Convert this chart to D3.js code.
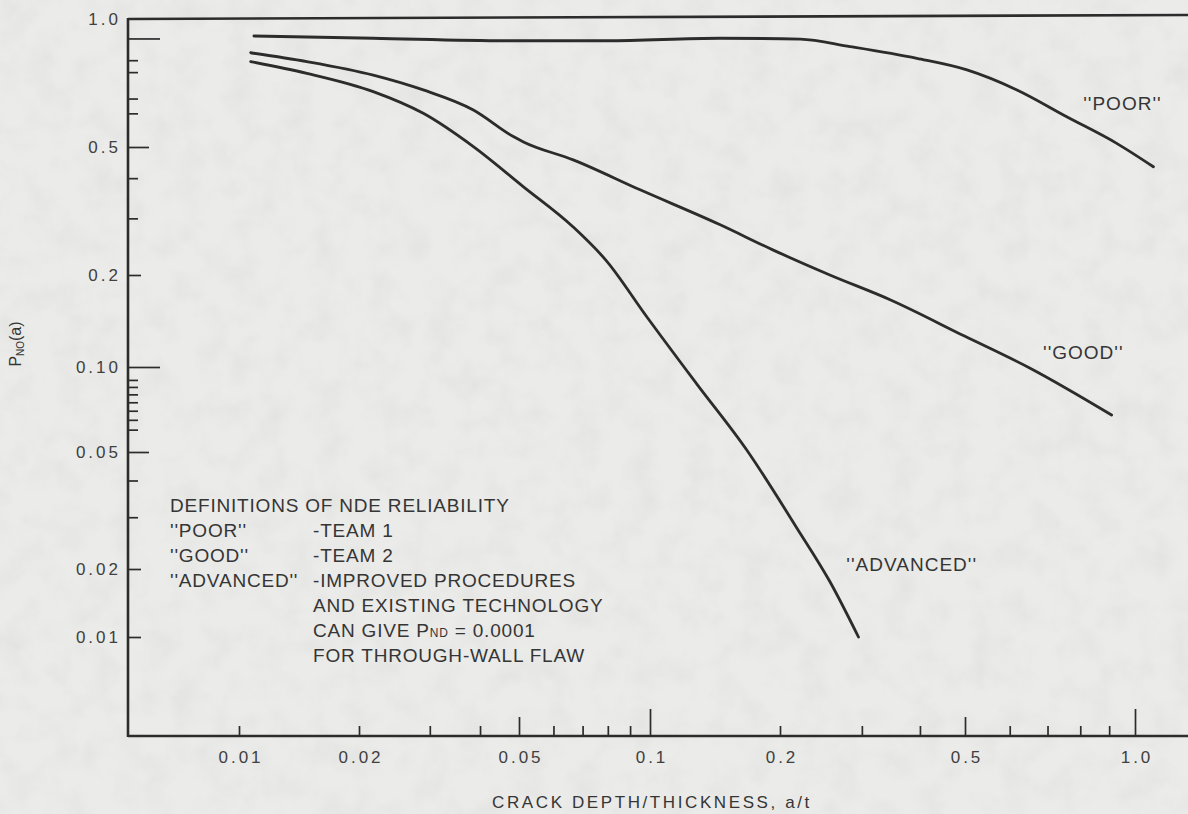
<!DOCTYPE html>
<html>
<head>
<meta charset="utf-8">
<script src="https://cdn.jsdelivr.net/npm/d3@7"></script>
<style>
body { margin: 0; background: #e8e8e6; }
svg text { font-family: "Liberation Sans", Arial, sans-serif; fill: #353535; }
</style>
</head>
<body>
<script>
// curves (a/t, P_ND)
var poorX = [0.0109, 0.0217, 0.0466, 0.0795, 0.145, 0.221, 0.283, 0.394, 0.504, 0.618, 0.757, 0.928, 1.078];
var poorY = [0.912, 0.901, 0.889, 0.889, 0.901, 0.897, 0.861, 0.808, 0.759, 0.681, 0.589, 0.510, 0.434];

var goodX = [0.0107, 0.0148, 0.0217, 0.0289, 0.0385, 0.0484, 0.0512, 0.0666, 0.0949, 0.145, 0.193, 0.256, 0.345, 0.5, 0.652, 0.909];
var goodY = [0.833, 0.794, 0.738, 0.681, 0.611, 0.529, 0.514, 0.456, 0.368, 0.287, 0.239, 0.200, 0.166, 0.126, 0.099, 0.0676];

var advX = [0.0107, 0.0148, 0.0217, 0.0289, 0.0385, 0.0512, 0.0666, 0.0795, 0.0983, 0.128, 0.1675, 0.217, 0.256, 0.295];
var advY = [0.794, 0.745, 0.675, 0.600, 0.501, 0.376, 0.282, 0.221, 0.146, 0.0875, 0.0508, 0.0277, 0.0176, 0.0100];

var curveNames = ["''POOR''", "''GOOD''", "''ADVANCED''"];
var curveLabelX = [0.95, 0.81, 0.384];
var curveLabelY = [0.635, 0.112, 0.0208];

var xTicks = [0.01, 0.02, 0.05, 0.1, 0.2, 0.5, 1.0];
var xTickLabels = ["0.01", "0.02", "0.05", "0.1", "0.2", "0.5", "1.0"];
var xMinor = [0.03, 0.04, 0.06, 0.07, 0.08, 0.09, 0.3, 0.4, 0.6, 0.7, 0.8, 0.9];
var yTicks = [1.0, 0.5, 0.2, 0.1, 0.05, 0.02, 0.01];
var yTickLabels = ["1.0", "0.5", "0.2", "0.10", "0.05", "0.02", "0.01"];
var yMinor = [0.8, 0.75, 0.65, 0.6, 0.4, 0.3, 0.09, 0.085, 0.08, 0.075, 0.07, 0.065, 0.06, 0.04, 0.03];

var legendLeft = ["DEFINITIONS OF NDE RELIABILITY", "''POOR''", "''GOOD''", "''ADVANCED''", "", "", ""];
var legendRight = ["", "-TEAM 1", "-TEAM 2", "-IMPROVED PROCEDURES", "AND EXISTING TECHNOLOGY", "CAN GIVE P|ND| = 0.0001", "FOR THROUGH-WALL FLAW"];

var W = 1188, H = 814;
var axisX = 128, axisBottom = 736;
// the scanned axes are not evenly spaced, so the log scales are piecewise
var xStops = [239, 359, 519, 650, 780, 965, 1135];
var yStops = [19, 147, 275, 367, 452, 569, 637];

var xScale = d3.scaleLog().domain(xTicks).range(xStops);
var yScale = d3.scaleLog().domain(yTicks).range(yStops);

var svg = d3.select("body").append("svg")
    .attr("width", W)
    .attr("height", H);

var defs = svg.append("defs");
var f = defs.append("filter").attr("id", "grain").attr("x", 0).attr("y", 0).attr("width", 1).attr("height", 1);
f.append("feTurbulence").attr("type", "fractalNoise").attr("baseFrequency", 0.035).attr("numOctaves", 3).attr("seed", 4);
f.append("feColorMatrix").attr("type", "matrix")
    .attr("values", "0 0 0 0 0.55  0 0 0 0 0.55  0 0 0 0 0.54  0 0 0 -1.6 0.95");

svg.append("rect").attr("width", W).attr("height", H).attr("fill", "#ebebe9");
svg.append("rect").attr("width", W).attr("height", H).attr("filter", "url(#grain)").attr("opacity", 0.22);

var ink = "#2c2c2c";

// frame: left axis, top (1.0) line, bottom axis
svg.append("line").attr("x1", axisX).attr("x2", axisX)
    .attr("y1", yScale(1.0) - 1).attr("y2", axisBottom + 1)
    .attr("stroke", ink).attr("stroke-width", 2.6);
svg.append("line").attr("x1", axisX).attr("x2", W)
    .attr("y1", yScale(1.0)).attr("y2", yScale(1.0) - 4)
    .attr("stroke", ink).attr("stroke-width", 2.6);
svg.append("line").attr("x1", axisX).attr("x2", W)
    .attr("y1", axisBottom).attr("y2", axisBottom)
    .attr("stroke", ink).attr("stroke-width", 2.6);

// x ticks point up into the plot
function xTickGroup(vals, len) {
    var g = svg.append("g")
        .attr("transform", "translate(0," + axisBottom + ")")
        .call(d3.axisBottom(xScale).tickValues(vals).tickSize(-len).tickFormat(""));
    g.select(".domain").remove();
    g.selectAll(".tick line").attr("stroke", ink).attr("stroke-width", 1.7);
}
xTickGroup([0.01, 0.02, 0.2].concat(xMinor), 10);
xTickGroup([0.05, 0.5], 19);
xTickGroup([0.1, 1.0], 27);

var xl = svg.append("g")
    .attr("transform", "translate(0," + axisBottom + ")")
    .call(d3.axisBottom(xScale).tickValues(xTicks).tickSize(0).tickPadding(15)
        .tickFormat(function(d, i) { return xTickLabels[i]; }));
xl.select(".domain").remove();
xl.selectAll("text").attr("font-size", "17px").attr("dx", "1.5px")
    .style("letter-spacing", "3px").style("fill", "#404040")
    .style("font-family", '"Liberation Sans", Arial, sans-serif');

svg.append("text")
    .attr("x", 652).attr("y", 808)
    .attr("text-anchor", "middle")
    .attr("font-size", "17px")
    .style("letter-spacing", "2.6px")
    .text("CRACK DEPTH/THICKNESS, a/t");

// y ticks point right into the plot
function yTickGroup(vals, len) {
    var g = svg.append("g")
        .attr("transform", "translate(" + axisX + ",0)")
        .call(d3.axisRight(yScale).tickValues(vals).tickSize(len).tickFormat(""));
    g.select(".domain").remove();
    g.selectAll(".tick line").attr("stroke", ink).attr("stroke-width", 1.7);
}
yTickGroup(yMinor, 10);
yTickGroup([0.2, 0.02, 0.01], 13);
yTickGroup([0.5, 0.05], 21);
yTickGroup([0.9, 0.1], 32);

var yl = svg.append("g")
    .attr("transform", "translate(" + axisX + ",0)")
    .call(d3.axisLeft(yScale).tickValues(yTicks).tickSize(0).tickPadding(7)
        .tickFormat(function(d, i) { return yTickLabels[i]; }));
yl.select(".domain").remove();
yl.selectAll("text").attr("font-size", "17px")
    .style("letter-spacing", "3px").style("fill", "#404040")
    .style("font-family", '"Liberation Sans", Arial, sans-serif');

var yTitle = svg.append("text")
    .attr("transform", "translate(21,344) rotate(-90)")
    .attr("text-anchor", "middle")
    .attr("font-size", "16px");
yTitle.append("tspan").text("P");
yTitle.append("tspan").attr("font-size", "10px").attr("dy", 3).text("NO");
yTitle.append("tspan").attr("dy", -3).text("(a)");

// curves
var series = [[poorX, poorY], [goodX, goodY], [advX, advY]];
var line = d3.line()
    .x(function(d) { return xScale(d[0]); })
    .y(function(d) { return yScale(d[1]); })
    .curve(d3.curveMonotoneX);

series.forEach(function(s) {
    svg.append("path")
        .datum(d3.zip(s[0], s[1]))
        .attr("fill", "none")
        .attr("stroke", ink)
        .attr("stroke-width", 2.8)
        .attr("stroke-linecap", "round")
        .attr("d", line);
});

svg.selectAll(".clabel")
    .data(curveNames)
    .enter().append("text")
    .attr("class", "clabel")
    .attr("x", function(d, i) { return xScale(curveLabelX[i]); })
    .attr("y", function(d, i) { return yScale(curveLabelY[i]); })
    .attr("dy", "0.36em")
    .attr("text-anchor", "middle")
    .attr("font-size", "19px")
    .style("letter-spacing", "1px")
    .text(function(d) { return d; });

// definitions box
var rowH = 25, legTop = 512;
legendLeft.forEach(function(t, i) {
    if (t) {
        svg.append("text").attr("x", 170).attr("y", legTop + i * rowH)
            .attr("font-size", "19px").style("letter-spacing", "0.8px").text(t);
    }
});
legendRight.forEach(function(t, i) {
    if (!t) return;
    var tx = svg.append("text").attr("x", 313).attr("y", legTop + i * rowH)
        .attr("font-size", "19px").style("letter-spacing", "0.8px");
    var parts = t.split("|");
    tx.append("tspan").text(parts[0]);
    if (parts.length > 1) {
        tx.append("tspan").attr("font-size", "12px").text(parts[1]);
        tx.append("tspan").text(parts[2]);
    }
});
</script>
</body>
</html>
